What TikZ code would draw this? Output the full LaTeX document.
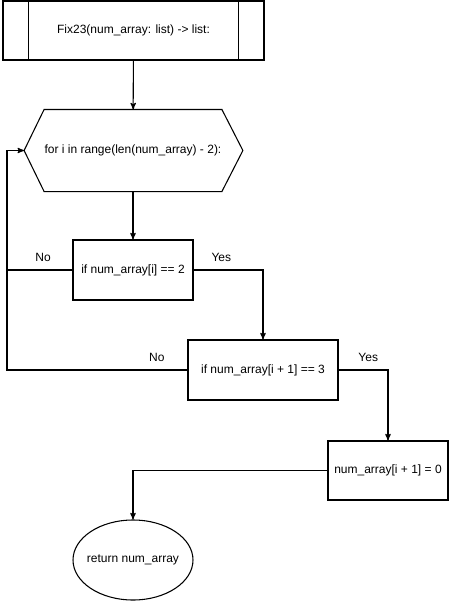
\documentclass[tikz,border=0pt]{standalone}
\usepackage{fontspec}
\setmainfont{Liberation Sans}
\usepackage{tikz}
\usetikzlibrary{arrows,shapes.geometric}

\begin{document}
\begin{tikzpicture}[x=0.75pt,y=-0.75pt,>=stealth',line width=0.8pt,
            font=\fontsize{9pt}{11pt}\selectfont]
        \tikzstyle{box}=[draw=black,rectangle,minimum width=90pt,minimum height=45pt,inner sep=0pt]
        \tikzstyle{lbl}=[above=5pt,inner sep=1pt]

        \useasboundingbox (0,0) rectangle (449,601);

        \node[box,minimum width=195.75pt,minimum height=44.25pt] (func) at (133.5,30.5) {Fix23(num\_array: list) -> list:};
        \draw ([xshift=19.5pt]func.north west) -- ([xshift=19.5pt]func.south west);
        \draw ([xshift=-19.5pt]func.north east) -- ([xshift=-19.5pt]func.south east);

        \node[minimum width=127.5pt,minimum height=60.75pt,inner sep=0pt] (loop) at (133,150.5) {for i in range(len(num\_array) - 2):};
        \coordinate (looptip) at ([xshift=-15pt]loop.west);
        \draw (loop.north west) -- (loop.north east) -- ([xshift=15.75pt]loop.east)
            -- (loop.south east) -- (loop.south west) -- (looptip) -- cycle;

        \node[box] (ifa) at (133,270) {if num\_array[i] == 2};
        \node[box,minimum width=112.5pt] (ifb) at (263,370) {if num\_array[i + 1] == 3};
        \node[box,minimum height=44.25pt] (setz) at (388,470.5) {num\_array[i + 1] = 0};
        \node[draw=black,ellipse,minimum width=90pt,minimum height=60pt,inner sep=0pt,inner xsep=-3pt] (ret) at (133,560) {return num\_array};
        \coordinate (rail) at (7,370);

        \draw[->] (func) -- (loop);
        \draw[->] (loop) -- (ifa);
        \draw[->] (ifa.east) -| node[lbl,pos=0.2] {Yes} (ifb.north);
        \draw[->] (ifa.west) -- node[lbl,pos=0.45] {No} (ifa.west -| rail) |- (looptip);
        \draw (ifb.west) -- node[lbl,pos=0.17] {No} (rail) -- (ifa.west -| rail);
        \draw[->] (ifb.east) -| node[lbl,pos=0.3] {Yes} (setz.north);
        \draw[->] (setz.west) -| (ret.north);
    \end{tikzpicture}
\end{document}
